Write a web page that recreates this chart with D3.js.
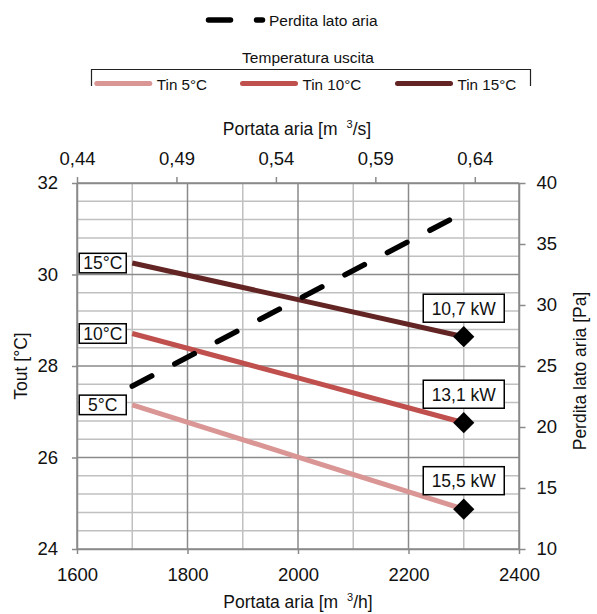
<!DOCTYPE html>
<html>
<head>
<meta charset="utf-8">
<script src="https://cdn.jsdelivr.net/npm/d3@7"></script>
<style>
  html, body { margin: 0; padding: 0; background: #fff; }
  svg { display: block; font-family: "Liberation Sans", Arial, Helvetica, sans-serif; }
</style>
</head>
<body>
<svg id="chart" width="597" height="614"></svg>
<script>
// Air flow (m³/h) at which each outlet-temperature curve is read
const flow = [1700, 2000, 2300];
// Outlet temperature Tout [°C] for each inlet temperature
const tin5 = [27.15, 26.01, 24.87];
const tin10 = [28.71, 27.74, 26.76];
const tin15 = [30.25, 29.45, 28.64];
// Air-side pressure drop [Pa]
const flowP = [1700, 2280];
const perdita = [23.35, 37.1];
// Capacity at the nominal flow
const capacity = [15.5, 13.1, 10.7];
// Series names and curve tags
const seriesNames = ["Tin 5°C", "Tin 10°C", "Tin 15°C"];
const curveTags = ["5°C", "10°C", "15°C"];
const colors = ["#D99694", "#C0504D", "#632523"];
// Axis ticks
const xTicks = [1600, 1800, 2000, 2200, 2400];
const yTicks = [24, 26, 28, 30, 32];
const yRTicks = [10, 15, 20, 25, 30, 35, 40];

const svg = d3.select("#chart");
const L = 77, R = 519, T = 183, B = 549;

const x = d3.scaleLinear([1600, 2400], [L, R]);
const xTop = d3.scaleLinear([1600 / 3600, 2400 / 3600], [L, R]);
const y = d3.scaleLinear([24, 32], [B, T]);
const yR = d3.scaleLinear([10, 40], [B, T]);

const comma = f => v => d3.format(f)(v).replace(".", ",");
const minorCol = "#c0c0c0", majorCol = "#8a8a8a";

// Grid: minor lines first, major on top
const grid = svg.append("g");
d3.range(1600, 2401, 100).filter(v => v % 200 !== 0).forEach(v => {
  grid.append("line").attr("x1", x(v)).attr("x2", x(v)).attr("y1", T).attr("y2", B)
    .attr("stroke", minorCol).attr("stroke-width", 1.5);
});
d3.range(0, 21).map(i => 24 + i * 0.4).filter(v => Math.abs(v / 2 - Math.round(v / 2)) > 1e-6).forEach(v => {
  grid.append("line").attr("x1", L).attr("x2", R).attr("y1", y(v)).attr("y2", y(v))
    .attr("stroke", minorCol).attr("stroke-width", 1.5);
});
xTicks.forEach(v => {
  grid.append("line").attr("x1", x(v)).attr("x2", x(v)).attr("y1", T).attr("y2", B)
    .attr("stroke", majorCol).attr("stroke-width", 1.5);
});
yTicks.forEach(v => {
  grid.append("line").attr("x1", L).attr("x2", R).attr("y1", y(v)).attr("y2", y(v))
    .attr("stroke", majorCol).attr("stroke-width", 1.5);
});

// Axes
function styleAxis(g) {
  g.selectAll(".domain").attr("stroke", majorCol).attr("stroke-width", 1.5);
  g.selectAll(".tick line").attr("stroke", majorCol).attr("stroke-width", 1.5);
  g.selectAll(".tick text").attr("fill", "#111").attr("font-size", 18.5)
    .attr("font-family", "'Liberation Sans', Arial, Helvetica, sans-serif");
}
svg.append("g").attr("transform", `translate(0,${B})`)
  .call(d3.axisBottom(x).tickValues(xTicks).tickSize(5).tickSizeOuter(0).tickPadding(14).tickFormat(d3.format("d")))
  .call(styleAxis);
svg.append("g").attr("transform", `translate(0,${T})`)
  .call(d3.axisTop(xTop).tickValues(d3.range(0, 5).map(i => 1600 / 3600 + i * 0.05)).tickSize(6).tickSizeOuter(0).tickPadding(12).tickFormat(comma(".2f")))
  .call(styleAxis);
svg.append("g").attr("transform", `translate(${L},0)`)
  .call(d3.axisLeft(y).tickValues(yTicks).tickSize(5).tickSizeOuter(0).tickPadding(14).tickFormat(d3.format("d")))
  .call(styleAxis);
svg.append("g").attr("transform", `translate(${R},0)`)
  .call(d3.axisRight(yR).tickValues(yRTicks).tickSize(6.5).tickSizeOuter(0).tickPadding(11).tickFormat(d3.format("d")))
  .call(styleAxis);

// Axis titles (unit with raised exponent)
function titleWithSup(sel, pre, sup, post) {
  sel.append("tspan").text(pre);
  sel.append("tspan").attr("font-size", 11).attr("dx", 9).attr("dy", -7).text(sup);
  sel.append("tspan").attr("dy", 7).text(post);
}
const tTop = svg.append("text").attr("x", 297).attr("y", 135).attr("text-anchor", "middle")
  .attr("font-size", 17.5).attr("fill", "#111");
titleWithSup(tTop, "Portata aria [m", "3", "/s]");
const tBot = svg.append("text").attr("x", 298).attr("y", 608).attr("text-anchor", "middle")
  .attr("font-size", 17.5).attr("fill", "#111");
titleWithSup(tBot, "Portata aria [m", "3", "/h]");
svg.append("text").attr("transform", `translate(27,${(T + B) / 2}) rotate(-90)`)
  .attr("text-anchor", "middle").attr("font-size", 17.5).attr("fill", "#111").text("Tout [°C]");
svg.append("text").attr("transform", `translate(586,${(T + B) / 2 + 5}) rotate(-90)`)
  .attr("text-anchor", "middle").attr("font-size", 17.5).attr("fill", "#111").text("Perdita lato aria [Pa]");

// Outlet temperature curves
const line = d3.line().x((d, i) => x(flow[i])).y(d => y(d));
const series = [tin5, tin10, tin15];
series.forEach((vals, k) => {
  svg.append("path").attr("d", line(vals)).attr("fill", "none")
    .attr("stroke", colors[k]).attr("stroke-width", 5).attr("stroke-linecap", "butt");
});

// Pressure drop (secondary axis)
const lineP = d3.line().x((d, i) => x(flowP[i])).y(d => yR(d));
svg.append("path").attr("d", lineP(perdita)).attr("fill", "none")
  .attr("stroke", "#000").attr("stroke-width", 5.5).attr("stroke-linecap", "round")
  .attr("stroke-dasharray", "22,26");

// Nominal points and capacity labels
series.forEach((vals, k) => {
  const px = x(flow[flow.length - 1]), py = y(vals[vals.length - 1]);
  svg.append("path").attr("d", d3.symbol(d3.symbolSquare, 225)())
    .attr("transform", `translate(${px},${py}) rotate(45)`).attr("fill", "#000");
  const bw = 81, bh = 28;
  svg.append("rect").attr("x", px - bw / 2).attr("y", py - 14.5 - bh).attr("width", bw).attr("height", bh)
    .attr("fill", "#fff").attr("stroke", "#000").attr("stroke-width", 1.5);
  svg.append("text").attr("x", px).attr("y", py - 14.5 - bh / 2 + 6.3).attr("text-anchor", "middle")
    .attr("font-size", 17.5).attr("fill", "#111").text(comma(".1f")(capacity[k]) + " kW");
});

// Curve tags at the start of each curve
series.forEach((vals, k) => {
  const px = x(flow[0]), py = y(vals[0]);
  const bw = 47, bh = 19.5;
  svg.append("rect").attr("x", px - 6 - bw).attr("y", py - bh / 2).attr("width", bw).attr("height", bh)
    .attr("fill", "#fff").attr("stroke", "#000").attr("stroke-width", 1.5);
  svg.append("text").attr("x", px - 6 - bw / 2).attr("y", py + 6.3).attr("text-anchor", "middle")
    .attr("font-size", 17.5).attr("fill", "#111").text(curveTags[k]);
});

// Legend: pressure drop
svg.append("line").attr("x1", 208.5).attr("x2", 262.5).attr("y1", 20).attr("y2", 20)
  .attr("stroke", "#000").attr("stroke-width", 5.5).attr("stroke-linecap", "round")
  .attr("stroke-dasharray", "22,26");
svg.append("text").attr("x", 269).attr("y", 26).attr("font-size", 15.5).attr("fill", "#111").text("Perdita lato aria");

// Legend: outlet temperature group
svg.append("text").attr("x", 308).attr("y", 62.5).attr("text-anchor", "middle")
  .attr("font-size", 15.5).attr("fill", "#111").text("Temperatura uscita");
svg.append("path").attr("d", "M91.5,86 V69.5 H530.5 V86").attr("fill", "none")
  .attr("stroke", "#222").attr("stroke-width", 1.2);
const legX = [96.8, 242.5, 397.5];
seriesNames.forEach((n, k) => {
  svg.append("line").attr("x1", legX[k]).attr("x2", legX[k] + 53).attr("y1", 83.5).attr("y2", 83.5)
    .attr("stroke", colors[k]).attr("stroke-width", 5).attr("stroke-linecap", "round");
  svg.append("text").attr("x", legX[k] + 60).attr("y", 90).attr("font-size", 15.2).attr("fill", "#111").text(n);
});
</script>
</body>
</html>
